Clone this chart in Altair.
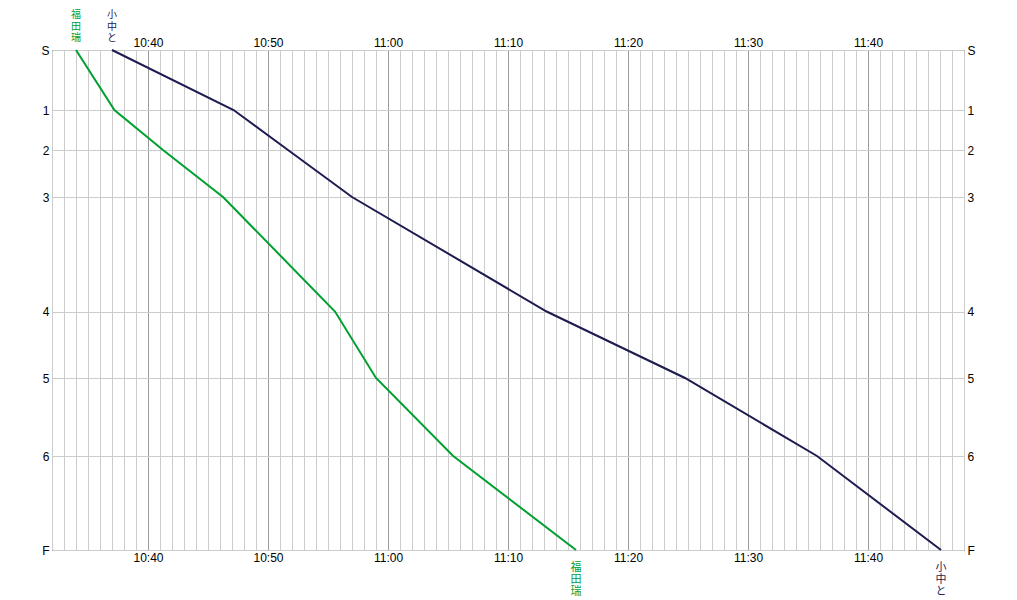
import altair as alt
import pandas as pd

# --- data ---
runners = ["福田瑞", "小中と"]
runner_colors = ["#00A030", "#1C1C50"]
stations = ["S", "1", "2", "3", "4", "5", "6", "F"]
station_pos = [0, 60, 100, 147, 261.5, 328, 406, 500]  # cumulative course position
splits_fukuda = ["10:34:00", "10:37:12", "10:41:15", "10:46:15", "10:55:35", "10:59:00", "11:05:26", "11:15:40"]
splits_konaka = ["10:37:00", "10:47:08", "10:51:40", "10:57:00", "11:13:13", "11:24:45", "11:35:45", "11:46:05"]
time_domain = ["10:32:00", "11:48:00"]


def to_min(s):
    h, m, sec = (int(v) for v in s.split(":"))
    return h * 60 + m + sec / 60.0


rows = []
for name, splits in zip(runners, [splits_fukuda, splits_konaka]):
    for i, (st, pos, t) in enumerate(zip(stations, station_pos, splits)):
        rows.append({"runner": name, "station": st, "pos": pos, "t": to_min(t),
                     "seq": i, "label": "\n".join(list(name))})
df = pd.DataFrame(rows)

x0, x1 = to_min(time_domain[0]), to_min(time_domain[1])
minute_ticks = list(range(int(x0), int(x1) + 1))

time_label = ("datum.value % 10 === 0 ? floor(datum.value / 60) + ':' + "
              "(datum.value % 60 < 10 ? '0' : '') + (datum.value % 60) : ''")
st_arr = "[" + ",".join("'" + s + "'" for s in stations) + "]"
pos_arr = "[" + ",".join(str(p) for p in station_pos) + "]"
station_label = f"{st_arr}[indexof({pos_arr}, datum.value)]"

xscale = alt.Scale(domain=[x0, x1], nice=False, zero=False)
yscale = alt.Scale(domain=[0, 500], reverse=True, nice=False, zero=False)
color = alt.Color("runner:N", scale=alt.Scale(domain=runners, range=runner_colors), legend=None)

lab_font = "Liberation Sans"
common_axis = dict(ticks=False, domain=False, title=None, labelFont=lab_font,
                   labelFontSize=12, labelColor="black", labelOverlap=False, labelFlush=False)

grid_cond = {"condition": {"test": "datum.value % 10 === 0", "value": "#9a9a9a"}, "value": "#cccccc"}

lines = alt.Chart(df).mark_line(strokeWidth=2).encode(
    x=alt.X("t:Q", scale=xscale,
            axis=alt.Axis(orient="top", values=minute_ticks, labelExpr=time_label,
                          gridColor=grid_cond, gridOpacity=1, labelPadding=1, **common_axis)),
    y=alt.Y("pos:Q", scale=yscale,
            axis=alt.Axis(orient="left", values=station_pos, labelExpr=station_label,
                          gridColor="#cccccc", gridOpacity=1, labelPadding=3, **common_axis)),
    color=color,
    order="seq:Q",
)

start_labels = alt.Chart(df).transform_filter("datum.seq === 0").mark_text(
    baseline="top", dy=-40, lineBreak="\n", lineHeight=11.5,
    font="Noto Sans CJK JP", fontSize=10,
).encode(
    x=alt.X("t:Q", scale=xscale,
            axis=alt.Axis(orient="bottom", values=minute_ticks, labelExpr=time_label,
                          grid=False, labelPadding=2, **common_axis)),
    y=alt.Y("pos:Q", scale=yscale,
            axis=alt.Axis(orient="right", values=station_pos, labelExpr=station_label,
                          grid=False, labelPadding=3, **common_axis)),
    text="label:N",
    color=color,
)

finish_labels = alt.Chart(df).transform_filter("datum.seq === 7").mark_text(
    baseline="top", dy=12, lineBreak="\n", lineHeight=12,
    font="Noto Sans CJK JP", fontSize=11,
).encode(
    x=alt.X("t:Q", scale=xscale, axis=None),
    y=alt.Y("pos:Q", scale=yscale, axis=None),
    text="label:N",
    color=color,
)

chart = alt.layer(lines, start_labels, finish_labels).resolve_axis(
    x="independent", y="independent"
).properties(
    width=912, height=500,
    autosize=alt.AutoSizeParams(type="none"),
    padding={"left": 44, "top": 42, "right": 45, "bottom": 48},
    background="white",
).configure_view(stroke="black", strokeWidth=1)

chart.save("out.html", embed_options={"renderer": "svg", "actions": False})
